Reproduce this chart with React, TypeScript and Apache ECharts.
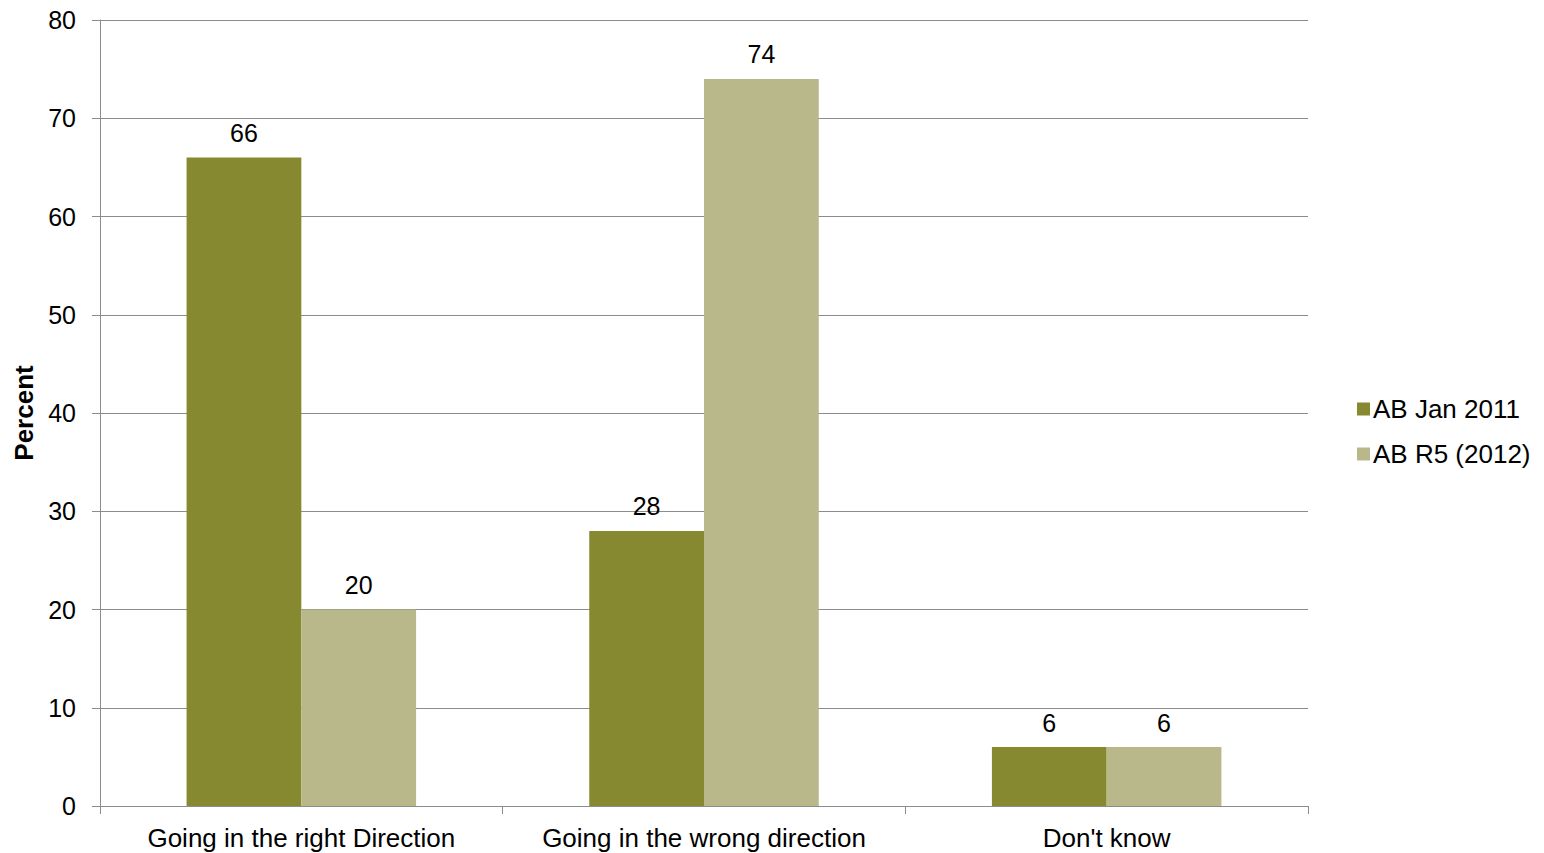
import React, { useEffect, useRef } from "react";
import * as echarts from "echarts";

const categories = ["Going in the right Direction", "Going in the wrong direction", "Don't know"];
const seriesNames = ["AB Jan 2011", "AB R5 (2012)"];
const jan2011 = [66, 28, 6];
const r5_2012 = [20, 74, 6];
const titleText = "Country going in right or wrong direction";

export default function App() {
  const ref = useRef<HTMLDivElement>(null);
  useEffect(() => {
    if (!ref.current) return;
    const chart = echarts.init(ref.current, null, { renderer: "svg" });
    const font = "Liberation Sans, Arial, sans-serif";
    chart.setOption({
      animation: false,
      backgroundColor: "#ffffff",
      textStyle: { fontFamily: font },
      graphic: [
        {
          type: "text",
          left: 80,
          top: -27,
          style: {
            text: titleText,
            font: "bold 26px 'Liberation Serif', 'Times New Roman', serif",
            fill: "#000",
          },
        },
      ],
      grid: { left: 100, right: 236, top: 20, bottom: 47, containLabel: false, outerBoundsMode: "none" },
      legend: {
        orient: "vertical",
        left: 1352,
        top: 391,
        itemWidth: 13,
        itemHeight: 13,
        itemGap: 19,
        icon: "rect",
        textStyle: { fontSize: 26, color: "#000", fontFamily: font, padding: [0, 0, 0, -2] },
        data: seriesNames,
      },
      xAxis: {
        type: "category",
        data: categories,
        axisLine: { lineStyle: { color: "#8c8c8c", width: 1 } },
        axisTick: { show: true, length: 8, lineStyle: { color: "#8c8c8c" }, alignWithLabel: false },
        axisLabel: { fontSize: 26, color: "#000", margin: 19, fontFamily: font, interval: 0 },
      },
      yAxis: {
        type: "value",
        min: 0,
        max: 80,
        interval: 10,
        name: "Percent",
        nameLocation: "middle",
        nameGap: 63,
        nameTextStyle: { fontSize: 26, fontWeight: "bold", color: "#000", fontFamily: font },
        axisLine: { show: true, lineStyle: { color: "#8c8c8c" } },
        axisTick: { show: true, length: 8, lineStyle: { color: "#8c8c8c" } },
        axisLabel: { fontSize: 25, color: "#000", margin: 24, fontFamily: font },
        splitLine: { show: true, lineStyle: { color: "#8c8c8c", width: 1 } },
      },
      series: [
        {
          name: seriesNames[0],
          type: "bar",
          data: jan2011,
          barGap: "0%",
          barCategoryGap: "43%",
          itemStyle: { color: "#86892F" },
          label: { show: true, position: "top", distance: 12, fontSize: 25, color: "#000", fontFamily: font },
        },
        {
          name: seriesNames[1],
          type: "bar",
          data: r5_2012,
          barGap: "0%",
          barCategoryGap: "43%",
          itemStyle: { color: "#B8B88B" },
          label: { show: true, position: "top", distance: 12, fontSize: 25, color: "#000", fontFamily: font },
        },
      ],
    });
    return () => chart.dispose();
  }, []);
  return <div ref={ref} style={{ width: 1544, height: 853, position: "absolute", left: 0, top: 0 }} />;
}
